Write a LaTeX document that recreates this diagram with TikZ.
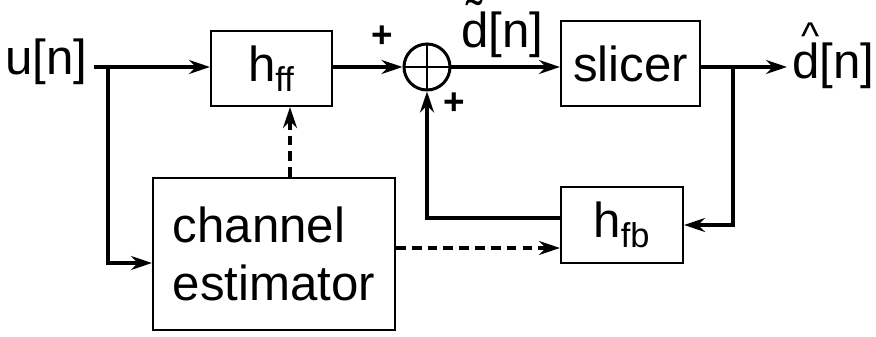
\documentclass[tikz,border=0pt]{standalone}
\usepackage{fontspec}
\setmainfont{Liberation Sans}
\usetikzlibrary{arrows.meta,calc}
\newcommand{\dTilde}{\ooalign{d\cr\hidewidth\raisebox{7.5pt}{^^^^02dc}\hidewidth\cr}}
\newcommand{\dHat}{\ooalign{d\cr\hidewidth\kern5pt\raisebox{16.7pt}{\fontsize{22}{22}\selectfont\textasciicircum}\hidewidth\cr}}

\begin{document}
\begin{tikzpicture}[x=0.02cm,y=-0.02cm,
  font=\fontsize{28}{33}\selectfont,
  blk/.style={draw,line width=1.2pt,inner sep=0pt},
  conn/.style={line width=1.9pt,-{Stealth[length=12pt,width=8pt,inset=4pt]}},
  dconn/.style={conn,dash pattern=on 5.5pt off 3.5pt},
  lbl/.style={inner sep=0pt},
  pluslbl/.style={inner sep=0pt,font=\fontsize{21}{21}\selectfont\bfseries}]
\useasboundingbox (0,0) rectangle (876,337);
% blocks
\node[blk,minimum width=2.42cm,minimum height=1.5cm] (hff) at (271.5,68.5) {h\textsubscript{ff}};
\node[blk,circle,line width=1.7pt,minimum size=0.92cm] (sum) at (427,67) {};
\draw[line width=1.7pt] (sum.north) -- (sum.south) (sum.west) -- (sum.east);
\node[blk,minimum width=2.78cm,minimum height=1.7cm] (slicer) at (630.5,63.5) {slicer};
\node[blk,minimum width=2.44cm,minimum height=1.52cm] (hfb) at (622,225) {h\textsubscript{fb}};
\node[blk,minimum width=4.84cm,minimum height=3.04cm,align=left] (chest) at (274,254) {channel\\estimator};
% signals
\node[lbl,anchor=base east] (un) at (88,75) {u[n]};
\node[lbl,anchor=base west] (dtil) at (461,48) {\dTilde[n]};
\node[lbl,anchor=base west,inner sep=2.8pt] (dhat) at (787,79) {\dHat[n]};
\node[pluslbl] (p1) at (382,37) {+};
\node[pluslbl] (p2) at (454,104) {+};
\coordinate (uin) at (94,67);
\coordinate (usplit) at (108,67);
\coordinate (dtap) at (733,67);
% connectors
\draw[conn] (uin) -- (uin -| hff.west);
\draw[conn] (usplit) |- ($(chest.west)+(0,9)$);
\draw[conn] (hff.east |- sum) -- (sum);
\draw[conn] (sum) -- (sum -| slicer.west);
\draw[conn] (slicer.east |- sum) -- (dhat.west |- sum);
\draw[conn] (dtap) |- (hfb.east);
\draw[conn] ($(hfb.west)+(0,-7)$) -| (sum.south);
\coordinate (est) at ($(chest.north)+(16,0)$);
\draw[dconn] (est) -- (est |- hff.south);
\coordinate (estb) at ($(chest.east)+(0,-6)$);
\draw[dconn] (estb) -- (estb -| hfb.west);
\end{tikzpicture}
\end{document}
